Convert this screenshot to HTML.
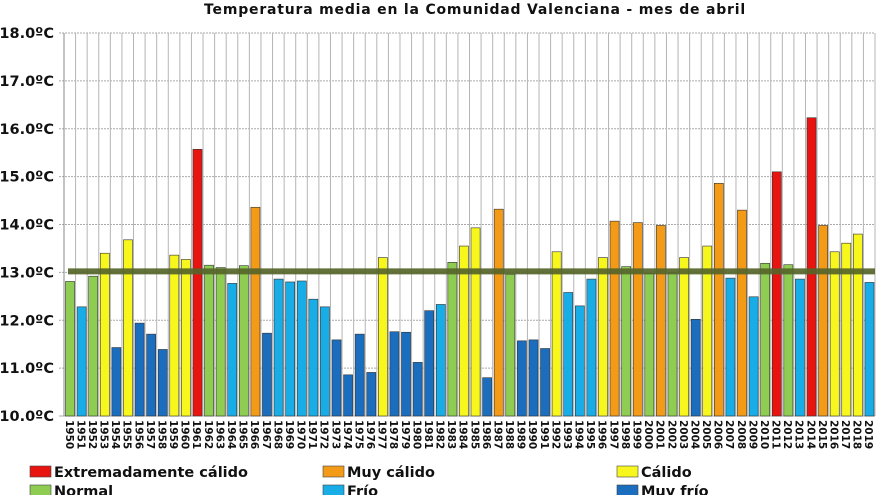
<!DOCTYPE html>
<html><head><meta charset="utf-8">
<style>
html,body{margin:0;padding:0;background:#fff;width:880px;height:495px;overflow:hidden}
svg text{font-family:"DejaVu Sans","Liberation Sans",sans-serif;font-weight:bold;fill:#111}
</style></head><body>
<svg id="c" width="880" height="495" xmlns="http://www.w3.org/2000/svg">
<text x="475" y="14" text-anchor="middle" font-size="14" letter-spacing="0.8">Temperatura  media  en la Comunidad Valenciana - mes de abril</text>
<g id="grid"></g>
<g id="bars"></g>
<g id="yax"></g>
<g id="xax"></g>
<g id="legend"></g>
</svg>
<script>
const years=[];for(let y=1950;y<=2019;y++)years.push(y);
const temps=[12.81,12.28,12.92,13.40,11.43,13.68,11.94,11.71,11.39,13.36,13.27,15.57,13.15,13.10,12.77,13.14,14.36,11.73,12.86,12.80,12.82,12.44,12.28,11.59,10.86,11.71,10.91,13.31,11.76,11.75,11.12,12.20,12.33,13.21,13.55,13.93,10.80,14.32,12.96,11.57,11.59,11.41,13.43,12.58,12.30,12.86,13.31,14.07,13.12,14.04,12.98,13.98,12.99,13.31,12.02,13.55,14.86,12.88,14.30,12.49,13.19,15.10,13.16,12.86,16.23,13.98,13.43,13.61,13.80,12.79];
const cats=["N","F","N","C","MF","C","MF","MF","MF","C","C","EC","N","N","F","N","MC","MF","F","F","F","F","F","MF","MF","MF","MF","C","MF","MF","MF","MF","F","N","C","C","MF","MC","N","MF","MF","MF","C","F","F","F","C","MC","N","MC","N","MC","N","C","MF","C","MC","F","MC","F","N","EC","N","F","EC","MC","C","C","C","F"];
const yTicks=[10,11,12,13,14,15,16,17,18];
const meanValue=13.02;
const legendKeys=["EC","MC","C","N","F","MF"];
const legendLabels=["Extremadamente cálido","Muy cálido","Cálido","Normal","Frío","Muy frío"];
const colors={EC:"#e8140f",MC:"#f39a17",C:"#f7f71e",N:"#8fcc52",F:"#18ade6",MF:"#1b6dbd"};
const X0=64,X1=875,Y0=416,Y1=33,YMIN=10,YMAX=18;
const slot=(X1-X0)/years.length;
const xs=i=>X0+i*slot;
const ys=v=>Y0-(v-YMIN)/(YMAX-YMIN)*(Y0-Y1);
const NS="http://www.w3.org/2000/svg";
function mk(t,a,p){const e=document.createElementNS(NS,t);for(const k in a)e.setAttribute(k,a[k]);p.appendChild(e);return e;}
const grid=document.getElementById('grid'),bars=document.getElementById('bars'),yax=document.getElementById('yax'),xax=document.getElementById('xax'),lg=document.getElementById('legend');
yTicks.forEach(t=>{
 const l=mk('line',{x1:X0-5,x2:X1,y1:ys(t),y2:ys(t),stroke:'#aaa','stroke-width':1,'stroke-dasharray':t==YMIN?'':'2,1'},grid);
 
 
 const tx=mk('text',{x:54,y:ys(t)+5,'text-anchor':'end','font-size':14.5},yax);
 tx.textContent=t.toFixed(1)+'ºC';
 
 
});
for(let i=0;i<=years.length;i++){
 const l=mk('line',{x1:xs(i),x2:xs(i),y1:Y1,y2:Y0,stroke:'#b5b5b5','stroke-width':1},grid);
 
 
}
mk('line',{x1:X0,x2:X0,y1:Y1,y2:Y0,stroke:'#888'},grid);
years.forEach((yr,i)=>{
 const top=ys(temps[i]);
 const r=mk('rect',{x:xs(i)+1.5,y:top,width:slot-2.5,height:Y0-top,fill:colors[cats[i]],stroke:'#333','stroke-width':0.6},bars);
 
 
 const tx=mk('text',{x:0,y:0,'font-size':10.5,transform:`translate(${xs(i)+slot/2-4},420) rotate(90)`},xax);
 tx.textContent=yr;
 
 
});
const ml=mk('line',{x1:X0+4,x2:X1,y1:ys(meanValue),y2:ys(meanValue),stroke:'#56652a','stroke-width':6,opacity:0.92},bars);


const lx=[30,323,617];
legendKeys.forEach((k,i)=>{
 const x=lx[i%3],y=i<3?466:485;
 const s=mk('rect',{x:x,y:y,width:21,height:11,fill:colors[k],stroke:'#444','stroke-width':0.6},lg);
 
 
 const t=mk('text',{x:x+24,y:y+11,'font-size':14.5},lg);
 t.textContent=legendLabels[i];
 
 
});
</script>
</body></html>
